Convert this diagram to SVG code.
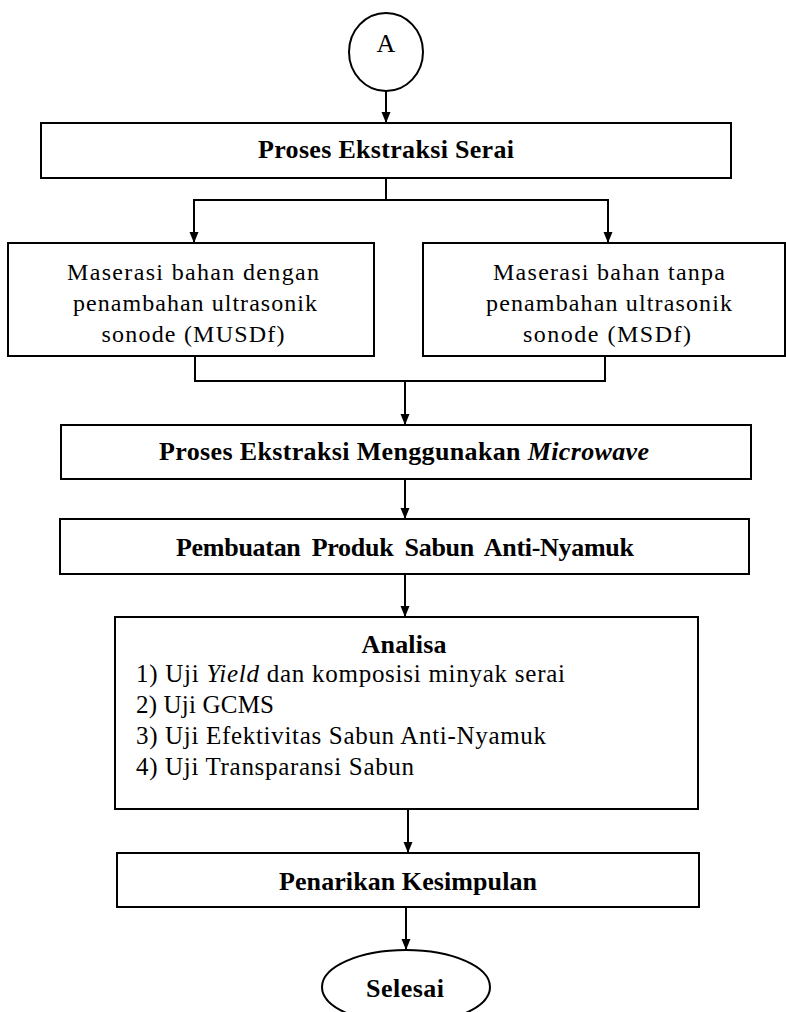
<svg xmlns="http://www.w3.org/2000/svg" width="786" height="1012" viewBox="0 0 786 1012">
<style>
.box{fill:#fff;stroke:#000;stroke-width:2}
.ln{fill:none;stroke:#000;stroke-width:2}
.t{font-family:"Liberation Serif","Times New Roman",serif;fill:#000;font-size:24px}
.b{font-family:"Liberation Serif","Times New Roman",serif;fill:#000;font-size:26px;font-weight:bold}
.l{font-family:"Liberation Serif","Times New Roman",serif;fill:#000;font-size:25px}
.m{text-anchor:middle}
</style>
<defs>
<marker id="arr" markerUnits="userSpaceOnUse" markerWidth="12" markerHeight="10" refX="11" refY="4.5" orient="auto">
<path d="M0,0 L11,4.5 L0,9 z" fill="#000"/>
</marker>
</defs>
<g id="connectors">
<line class="ln" x1="386" y1="91" x2="386" y2="123" marker-end="url(#arr)"/>
<polyline class="ln" points="386,178 386,200"/>
<polyline class="ln" points="194,243 194,200 608,200 608,243" marker-end="url(#arr)"/>
<line class="ln" x1="194" y1="200" x2="194" y2="243" marker-end="url(#arr)"/>
<polyline class="ln" points="195,356 195,381 605,381 605,356"/>
<line class="ln" x1="405" y1="381" x2="405" y2="425" marker-end="url(#arr)"/>
<line class="ln" x1="405" y1="479" x2="405" y2="519" marker-end="url(#arr)"/>
<line class="ln" x1="405" y1="574" x2="405" y2="617" marker-end="url(#arr)"/>
<line class="ln" x1="408" y1="809" x2="408" y2="853" marker-end="url(#arr)"/>
<line class="ln" x1="406" y1="907" x2="406" y2="950" marker-end="url(#arr)"/>
</g>
<g id="node-a">
<ellipse class="box" cx="386" cy="52" rx="37" ry="39"/>
<text class="t m" x="386" y="52" style="font-size:26px">A</text>
</g>
<g id="node-ekstraksi">
<rect class="box" x="41" y="123" width="690" height="55"/>
<text class="b m" x="386" y="158" textLength="256" lengthAdjust="spacing">Proses Ekstraksi Serai</text>
</g>
<g id="node-musdf">
<rect class="box" x="8" y="243" width="366" height="113"/>
<text class="t m" x="193" y="280" textLength="252" lengthAdjust="spacing">Maserasi bahan dengan</text>
<text class="t m" x="195" y="311" textLength="244" lengthAdjust="spacing">penambahan ultrasonik</text>
<text class="t m" x="193" y="342" textLength="183" lengthAdjust="spacing">sonode (MUSDf)</text>
</g>
<g id="node-msdf">
<rect class="box" x="423" y="243" width="362" height="113"/>
<text class="t m" x="609" y="280" textLength="232" lengthAdjust="spacing">Maserasi bahan tanpa</text>
<text class="t m" x="609" y="311" textLength="246" lengthAdjust="spacing">penambahan ultrasonik</text>
<text class="t m" x="607" y="342" textLength="168" lengthAdjust="spacing">sonode (MSDf)</text>
</g>
<g id="node-microwave">
<rect class="box" x="61" y="425" width="690" height="54"/>
<text class="b m" x="404" y="460" textLength="490" lengthAdjust="spacing">Proses Ekstraksi Menggunakan <tspan font-style="italic">Microwave</tspan></text>
</g>
<g id="node-sabun">
<rect class="box" x="60" y="519" width="689" height="55"/>
<text class="b m" x="405" y="556" textLength="458" lengthAdjust="spacing" word-spacing="5">Pembuatan Produk Sabun Anti-Nyamuk</text>
</g>
<g id="node-analisa">
<rect class="box" x="115" y="617" width="583" height="192"/>
<text class="b m" x="404" y="653" textLength="85" lengthAdjust="spacing">Analisa</text>
<text class="l" x="136" y="682" textLength="429" lengthAdjust="spacing">1) Uji <tspan font-style="italic">Yield</tspan> dan komposisi minyak serai</text>
<text class="l" x="136" y="713" textLength="138" lengthAdjust="spacing">2) Uji GCMS</text>
<text class="l" x="136" y="744" textLength="410" lengthAdjust="spacing">3) Uji Efektivitas Sabun Anti-Nyamuk</text>
<text class="l" x="136" y="775" textLength="278" lengthAdjust="spacing">4) Uji Transparansi Sabun</text>
</g>
<g id="node-kesimpulan">
<rect class="box" x="117" y="853" width="582" height="54"/>
<text class="b m" x="408" y="890" textLength="258" lengthAdjust="spacing">Penarikan Kesimpulan</text>
</g>
<g id="node-selesai">
<ellipse class="box" cx="406" cy="987" rx="84" ry="37"/>
<text class="b m" x="405" y="997" textLength="78" lengthAdjust="spacing">Selesai</text>
</g>
</svg>
